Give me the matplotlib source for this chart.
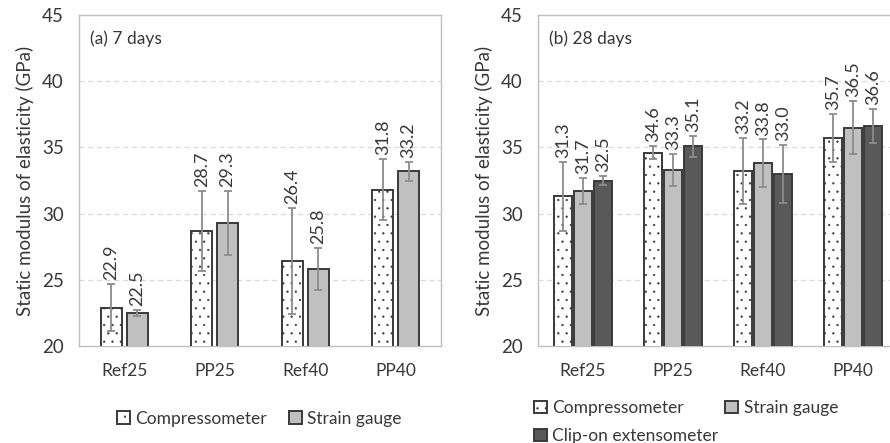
import matplotlib.pyplot as plt
import numpy as np

plt.rcParams['font.family'] = ['Lato', 'DejaVu Sans']
plt.rcParams['hatch.linewidth'] = 0.4
plt.rcParams['hatch.color'] = '#9a9a9a'

cats = ["Ref25", "PP25", "Ref40", "PP40"]

# (a) 7 days
comp7 = [22.9, 28.7, 26.4, 31.8]
comp7_err = [1.8, 3.0, 4.0, 2.3]
sg7 = [22.5, 29.3, 25.8, 33.2]
sg7_err = [0.2, 2.4, 1.6, 0.7]

# (b) 28 days
comp28 = [31.3, 34.6, 33.2, 35.7]
comp28_err = [2.6, 0.5, 2.5, 1.8]
sg28 = [31.7, 33.3, 33.8, 36.5]
sg28_err = [1.0, 1.2, 1.8, 2.0]
clip28 = [32.5, 35.1, 33.0, 36.6]
clip28_err = [0.35, 0.8, 2.2, 1.3]

series_styles = {
    "Compressometer": dict(color="white", hatch=".."),
    "Strain gauge": dict(color="#c0c0c0", hatch=None),
    "Clip-on extensometer": dict(color="#595959", hatch=None),
}

EDGE = "#3a3a3a"
TXT = "#383838"
ERRC = "#8c8c8c"


def panel(ax, series, width, step, title):
    x = np.arange(len(cats))
    n = len(series)
    for i, (name, vals, errs) in enumerate(series):
        off = (i - (n - 1) / 2) * step
        st = series_styles[name]
        ax.bar(x + off, vals, width, bottom=0, color=st["color"],
               hatch=st["hatch"], edgecolor=EDGE, linewidth=1.4,
               label=name, zorder=3)
        ax.errorbar(x + off, vals, yerr=errs, fmt="none", ecolor=ERRC,
                    elinewidth=1.3, capsize=3, capthick=1.3, zorder=4)
        for xi, v, e in zip(x + off, vals, errs):
            ax.text(xi, v + e + 0.3, f"{v:.1f}", rotation=90, ha="center",
                    va="bottom", fontsize=13, color=TXT, zorder=5)
    ax.set_ylim(20, 45)
    ax.set_xlim(-0.5, len(cats) - 0.5)
    ax.set_yticks([20, 25, 30, 35, 40, 45])
    ax.set_xticks(x)
    ax.set_xticklabels(cats)
    ax.tick_params(axis="y", length=0, labelsize=13.5, colors=TXT, pad=11)
    ax.tick_params(axis="x", length=0, labelsize=12.5, colors=TXT, pad=12)
    for y in [25, 30, 35, 40]:
        ax.axhline(y, color="#d9d9d9", linestyle=(0, (4, 3)), linewidth=0.9, zorder=1)
    for s in ax.spines.values():
        s.set_color("#bfbfbf")
        s.set_linewidth(1.0)
    ax.set_ylabel("Static modulus of elasticity (GPa)", fontsize=13.5, color=TXT, labelpad=6)
    ax.text(0.03, 0.955, title, transform=ax.transAxes, ha="left", va="top",
            fontsize=12.5, color=TXT)


fig = plt.figure(figsize=(8.9, 4.43), dpi=100)
ax1 = fig.add_axes([0.0888, 0.219, 0.4067, 0.747])
ax2 = fig.add_axes([0.6045, 0.219, 0.4045, 0.747])

panel(ax1, [("Compressometer", comp7, comp7_err),
            ("Strain gauge", sg7, sg7_err)], 0.23, 0.285, "(a) 7 days")
panel(ax2, [("Compressometer", comp28, comp28_err),
            ("Strain gauge", sg28, sg28_err),
            ("Clip-on extensometer", clip28, clip28_err)], 0.19, 0.222, "(b) 28 days")

leg_kw = dict(frameon=False, fontsize=12.5, handlelength=0.75, handleheight=0.75,
              handletextpad=0.3, labelcolor=TXT, borderpad=0, borderaxespad=0)
h1, l1 = ax1.get_legend_handles_labels()
fig.legend(h1, l1, loc="center left", ncol=2,
           bbox_to_anchor=(0.131, 0.055), columnspacing=1.3, **leg_kw)
h2, l2 = ax2.get_legend_handles_labels()
order = [0, 2, 1]
fig.legend([h2[i] for i in order], [l2[i] for i in order], loc="upper left",
           ncol=2, bbox_to_anchor=(0.6, 0.097), columnspacing=0.4,
           labelspacing=0.7, **leg_kw)

fig.savefig("out.png", dpi=100)
